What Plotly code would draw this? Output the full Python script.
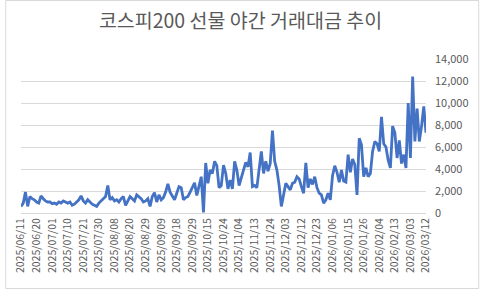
import pandas as pd
import plotly.graph_objects as go

# ---- data ----
title_text = "코스피200 선물 야간 거래대금 추이"

holidays = ["2025-08-15", "2025-10-03", "2025-10-06", "2025-10-07", "2025-10-08",
            "2025-10-09", "2025-12-25", "2025-12-31", "2026-01-01", "2026-02-16",
            "2026-02-17", "2026-02-18", "2026-02-19", "2026-03-02"]
dates = [d.strftime("%Y/%m/%d") for d in pd.bdate_range("2025-06-11", "2026-03-12")
         if d.strftime("%Y-%m-%d") not in holidays]

values = [
    600, 900, 1900, 600, 1500, 1300, 1200, 1000, 900, 1550,
    1300, 1100, 1000, 1000, 850, 900, 800, 1000, 900, 1100,
    1000, 900, 1000, 700, 800, 1000, 1200, 1550, 1100, 900,
    1200, 1000, 800, 700, 600, 900, 1100, 1300, 1500, 2500,
    1200, 1400, 1100, 1200, 1000, 1300, 1500, 700, 1100, 1500,
    1300, 1100, 1650, 1500, 1300, 1000, 1100, 1300, 600, 1500,
    1850, 1000, 1650, 1200, 1400, 1900, 2650, 1900, 1500, 1200,
    1800, 2400, 2300, 1200, 1400, 1500, 1900, 2300, 2750, 1600,
    2400, 3300, 50, 4550, 2700, 3900, 3600, 4700, 4300, 2300,
    2500, 4350, 3600, 2200, 3000, 2200, 4700, 3900, 2500, 3200,
    4000, 4600, 4200, 5500, 2400, 2500, 2300, 3800, 5600, 3600,
    4700, 3800, 4500, 7500, 4700, 3900, 2500, 600, 1500, 2700,
    2400, 2100, 2700, 2800, 3300, 3100, 2400, 1800, 4550, 2300,
    3100, 2600, 3300, 2300, 1800, 1650, 900, 1200, 1800, 1200,
    3400, 4300, 3700, 2800, 3900, 2900, 2800, 5300, 3700, 4900,
    4400, 1650, 6800, 6200, 3300, 4100, 3300, 3600, 5600, 6500,
    6300, 5600, 8750, 6300, 6000, 4800, 4100, 7900, 7300, 5000,
    6600, 4500, 5300, 4100, 10000, 5000, 12400, 6500, 9500, 6500,
    7900, 9700, 7300,
]

tick_labels = ["2025/06/11", "2025/06/20", "2025/07/01", "2025/07/10", "2025/07/21",
               "2025/07/30", "2025/08/08", "2025/08/20", "2025/08/29", "2025/09/09",
               "2025/09/18", "2025/09/29", "2025/10/15", "2025/10/24", "2025/11/04",
               "2025/11/13", "2025/11/24", "2025/12/03", "2025/12/12", "2025/12/23",
               "2026/01/06", "2026/01/15", "2026/01/26", "2026/02/04", "2026/02/13",
               "2026/03/03", "2026/03/12"]

y_ticks = [0, 2000, 4000, 6000, 8000, 10000, 12000, 14000]

# ---- figure ----
W, H = 481, 289
ml, mr, mt, mb = 16, 54, 59, 76
pw, ph = W - ml - mr, H - mt - mb

fig = go.Figure()
fig.add_trace(go.Scatter(
    x=dates, y=values, mode="lines",
    line=dict(color="#4472C4", width=2.8),
    hoverinfo="x+y",
))

border = dict(
    type="rect", xref="paper", yref="paper",
    x0=(0.5 - ml) / pw, x1=(W - 0.5 - ml) / pw,
    y0=-(mb - 0.5) / ph, y1=1 + (mt - 0.5) / ph,
    line=dict(color="#D9D9D9", width=1),
    layer="above",
)

fig.update_layout(
    width=W, height=H,
    margin=dict(l=ml, r=mr, t=mt, b=mb),
    paper_bgcolor="white", plot_bgcolor="white",
    showlegend=False,
    font=dict(family="Noto Sans CJK KR, Noto Sans, sans-serif", color="#595959"),
    title=dict(text=title_text, x=0.5, xanchor="center", y=1 - 21 / H, yanchor="middle",
               font=dict(size=19.5, color="#595959",
                         family="Noto Sans CJK KR, sans-serif")),
    xaxis=dict(
        type="category",
        tickmode="array", tickvals=tick_labels, ticktext=tick_labels,
        tickangle=-90, tickfont=dict(size=10.5, color="#595959",
                                     family="Noto Sans CJK KR, sans-serif"),
        showgrid=False, showline=True, linecolor="#D9D9D9", linewidth=1,
        ticks="", zeroline=False,
    ),
    yaxis=dict(
        side="right", range=[0, 14000],
        tickmode="array", tickvals=y_ticks,
        ticktext=[f"{v:,}" for v in y_ticks],
        tickfont=dict(size=11, color="#595959",
                      family="Noto Sans CJK KR, sans-serif"),
        showgrid=True, gridcolor="#D9D9D9", gridwidth=1,
        zeroline=False, showline=False, ticks="", ticklabelstandoff=8,
    ),
    shapes=[border],
)

fig.write_html("out.html")
